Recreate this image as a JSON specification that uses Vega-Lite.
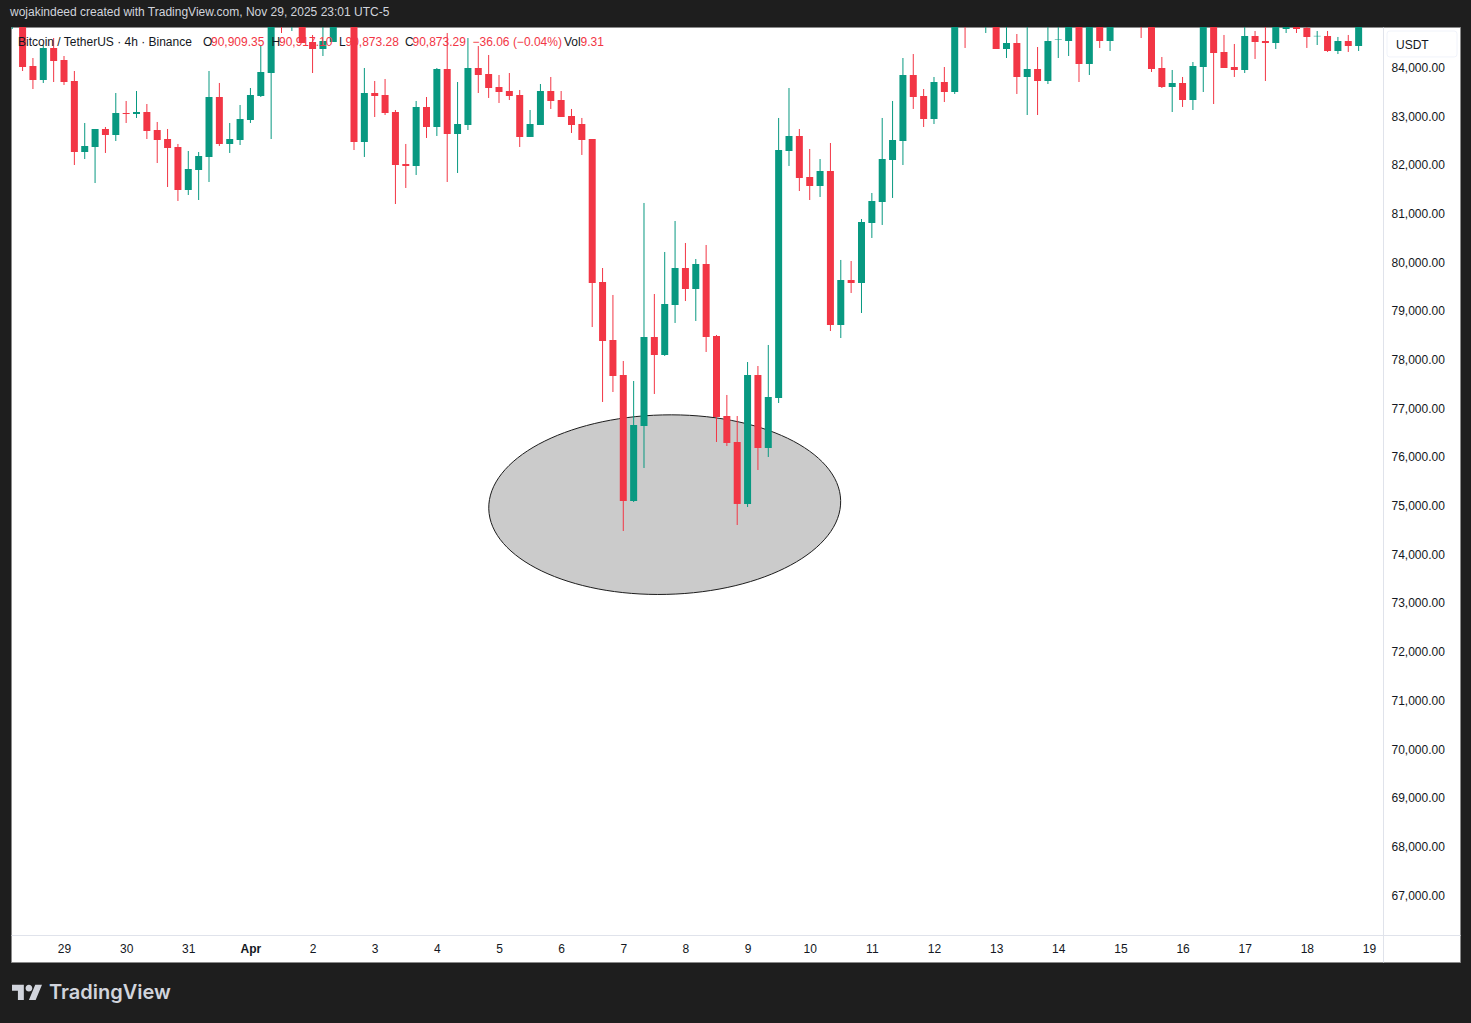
{
  "$schema": "https://vega.github.io/schema/vega-lite/v6.json",
  "width": 1449,
  "height": 935,
  "autosize": "none",
  "padding": {"left": 11, "top": 27, "right": 11, "bottom": 61},
  "background": "#1e1e1e",
  "view": {"fill": "#ffffff", "stroke": "#8a8a8a"},
  "title": {
    "text": "wojakindeed created with TradingView.com, Nov 29, 2025 23:01 UTC-5",
    "anchor": "start",
    "frame": "group",
    "dx": -1,
    "offset": 8,
    "font": "Liberation Sans",
    "fontSize": 12,
    "fontWeight": "normal",
    "color": "#d1d4dc"
  },
  "datasets": {
    "candles": [
      {"t":"2025-03-28T04:00:00Z","dir":"up","o":85079,"h":85284,"l":84791,"c":85181},
      {"t":"2025-03-28T08:00:00Z","dir":"down","o":85181,"h":85284,"l":83928,"c":84010},
      {"t":"2025-03-28T12:00:00Z","dir":"down","o":84031,"h":84195,"l":83558,"c":83743},
      {"t":"2025-03-28T16:00:00Z","dir":"up","o":83743,"h":84462,"l":83682,"c":84401},
      {"t":"2025-03-28T20:00:00Z","dir":"down","o":84401,"h":84606,"l":83702,"c":84134},
      {"t":"2025-03-29T00:00:00Z","dir":"down","o":84154,"h":84236,"l":83641,"c":83702},
      {"t":"2025-03-29T04:00:00Z","dir":"down","o":83723,"h":83928,"l":81997,"c":82264},
      {"t":"2025-03-29T08:00:00Z","dir":"up","o":82264,"h":82860,"l":82120,"c":82388},
      {"t":"2025-03-29T12:00:00Z","dir":"up","o":82367,"h":82737,"l":81627,"c":82737},
      {"t":"2025-03-29T16:00:00Z","dir":"down","o":82737,"h":82778,"l":82244,"c":82614},
      {"t":"2025-03-29T20:00:00Z","dir":"up","o":82614,"h":83476,"l":82490,"c":83065},
      {"t":"2025-03-30T00:00:00Z","dir":"down","o":83065,"h":83312,"l":82860,"c":83045},
      {"t":"2025-03-30T04:00:00Z","dir":"up","o":83045,"h":83517,"l":82963,"c":83086},
      {"t":"2025-03-30T08:00:00Z","dir":"down","o":83086,"h":83250,"l":82531,"c":82696},
      {"t":"2025-03-30T12:00:00Z","dir":"down","o":82716,"h":82881,"l":82038,"c":82511},
      {"t":"2025-03-30T16:00:00Z","dir":"down","o":82531,"h":82737,"l":81545,"c":82346},
      {"t":"2025-03-30T20:00:00Z","dir":"down","o":82367,"h":82429,"l":81258,"c":81484},
      {"t":"2025-03-31T00:00:00Z","dir":"up","o":81484,"h":82285,"l":81381,"c":81915},
      {"t":"2025-03-31T04:00:00Z","dir":"up","o":81894,"h":82264,"l":81278,"c":82182},
      {"t":"2025-03-31T08:00:00Z","dir":"up","o":82162,"h":83928,"l":81648,"c":83394},
      {"t":"2025-03-31T12:00:00Z","dir":"down","o":83394,"h":83682,"l":82388,"c":82429},
      {"t":"2025-03-31T16:00:00Z","dir":"up","o":82429,"h":82860,"l":82244,"c":82531},
      {"t":"2025-03-31T20:00:00Z","dir":"up","o":82511,"h":83230,"l":82408,"c":82942},
      {"t":"2025-04-01T00:00:00Z","dir":"up","o":82922,"h":83579,"l":82860,"c":83435},
      {"t":"2025-04-01T04:00:00Z","dir":"up","o":83415,"h":84462,"l":83394,"c":83908},
      {"t":"2025-04-01T08:00:00Z","dir":"up","o":83887,"h":85181,"l":82531,"c":85079},
      {"t":"2025-04-01T12:00:00Z","dir":"down","o":85181,"h":85284,"l":84709,"c":85079},
      {"t":"2025-04-01T16:00:00Z","dir":"up","o":85079,"h":85284,"l":84750,"c":85181},
      {"t":"2025-04-01T20:00:00Z","dir":"down","o":85181,"h":85284,"l":84503,"c":84503},
      {"t":"2025-04-02T00:00:00Z","dir":"down","o":84524,"h":84668,"l":83887,"c":84380},
      {"t":"2025-04-02T04:00:00Z","dir":"up","o":84380,"h":84900,"l":84236,"c":84544},
      {"t":"2025-04-02T08:00:00Z","dir":"up","o":84524,"h":85181,"l":84524,"c":85079},
      {"t":"2025-04-02T12:00:00Z","dir":"up","o":85000,"h":85181,"l":84900,"c":85079},
      {"t":"2025-04-02T16:00:00Z","dir":"down","o":85181,"h":85284,"l":82305,"c":82470},
      {"t":"2025-04-02T20:00:00Z","dir":"up","o":82470,"h":83990,"l":82162,"c":83476},
      {"t":"2025-04-03T00:00:00Z","dir":"down","o":83476,"h":83723,"l":82983,"c":83415},
      {"t":"2025-04-03T04:00:00Z","dir":"down","o":83435,"h":83764,"l":83024,"c":83065},
      {"t":"2025-04-03T08:00:00Z","dir":"down","o":83086,"h":83127,"l":81196,"c":81997},
      {"t":"2025-04-03T12:00:00Z","dir":"down","o":82018,"h":82429,"l":81525,"c":81977},
      {"t":"2025-04-03T16:00:00Z","dir":"up","o":81977,"h":83312,"l":81792,"c":83189},
      {"t":"2025-04-03T20:00:00Z","dir":"down","o":83189,"h":83394,"l":82552,"c":82778},
      {"t":"2025-04-04T00:00:00Z","dir":"up","o":82778,"h":83990,"l":82593,"c":83969},
      {"t":"2025-04-04T04:00:00Z","dir":"down","o":83969,"h":84709,"l":81648,"c":82634},
      {"t":"2025-04-04T08:00:00Z","dir":"up","o":82634,"h":83702,"l":81833,"c":82839},
      {"t":"2025-04-04T12:00:00Z","dir":"up","o":82819,"h":84606,"l":82716,"c":83990},
      {"t":"2025-04-04T16:00:00Z","dir":"down","o":83990,"h":84442,"l":83476,"c":83846},
      {"t":"2025-04-04T20:00:00Z","dir":"down","o":83867,"h":84257,"l":83374,"c":83579},
      {"t":"2025-04-05T00:00:00Z","dir":"down","o":83599,"h":83846,"l":83271,"c":83497},
      {"t":"2025-04-05T04:00:00Z","dir":"down","o":83517,"h":83887,"l":83332,"c":83415},
      {"t":"2025-04-05T08:00:00Z","dir":"down","o":83435,"h":83538,"l":82367,"c":82573},
      {"t":"2025-04-05T12:00:00Z","dir":"up","o":82573,"h":83127,"l":82573,"c":82839},
      {"t":"2025-04-05T16:00:00Z","dir":"up","o":82819,"h":83661,"l":82819,"c":83517},
      {"t":"2025-04-05T20:00:00Z","dir":"down","o":83517,"h":83805,"l":83148,"c":83312},
      {"t":"2025-04-06T00:00:00Z","dir":"down","o":83332,"h":83517,"l":82983,"c":82983},
      {"t":"2025-04-06T04:00:00Z","dir":"down","o":83004,"h":83148,"l":82655,"c":82819},
      {"t":"2025-04-06T08:00:00Z","dir":"down","o":82839,"h":82963,"l":82203,"c":82511},
      {"t":"2025-04-06T12:00:00Z","dir":"down","o":82531,"h":82531,"l":78669,"c":79573},
      {"t":"2025-04-06T16:00:00Z","dir":"down","o":79594,"h":79881,"l":77129,"c":78382},
      {"t":"2025-04-06T20:00:00Z","dir":"down","o":78402,"h":79327,"l":77334,"c":77663},
      {"t":"2025-04-07T00:00:00Z","dir":"down","o":77683,"h":77971,"l":74479,"c":75095},
      {"t":"2025-04-07T04:00:00Z","dir":"up","o":75095,"h":77560,"l":75074,"c":76656},
      {"t":"2025-04-07T08:00:00Z","dir":"up","o":76636,"h":81217,"l":75773,"c":78464},
      {"t":"2025-04-07T12:00:00Z","dir":"down","o":78464,"h":79347,"l":77293,"c":78094},
      {"t":"2025-04-07T16:00:00Z","dir":"up","o":78094,"h":80210,"l":78074,"c":79142},
      {"t":"2025-04-07T20:00:00Z","dir":"up","o":79121,"h":80847,"l":78752,"c":79881},
      {"t":"2025-04-08T00:00:00Z","dir":"down","o":79881,"h":80395,"l":79203,"c":79450},
      {"t":"2025-04-08T04:00:00Z","dir":"up","o":79450,"h":80066,"l":78793,"c":79964},
      {"t":"2025-04-08T08:00:00Z","dir":"down","o":79964,"h":80354,"l":78156,"c":78464},
      {"t":"2025-04-08T12:00:00Z","dir":"down","o":78484,"h":78505,"l":76307,"c":76821},
      {"t":"2025-04-08T16:00:00Z","dir":"down","o":76841,"h":77273,"l":76225,"c":76287},
      {"t":"2025-04-08T20:00:00Z","dir":"down","o":76307,"h":76841,"l":74602,"c":75034},
      {"t":"2025-04-09T00:00:00Z","dir":"up","o":75034,"h":77950,"l":74972,"c":77683},
      {"t":"2025-04-09T04:00:00Z","dir":"down","o":77683,"h":77868,"l":75732,"c":76184},
      {"t":"2025-04-09T08:00:00Z","dir":"up","o":76184,"h":78300,"l":75999,"c":77232},
      {"t":"2025-04-09T12:00:00Z","dir":"up","o":77211,"h":82963,"l":77108,"c":82305},
      {"t":"2025-04-09T16:00:00Z","dir":"up","o":82285,"h":83579,"l":81977,"c":82593},
      {"t":"2025-04-09T20:00:00Z","dir":"down","o":82593,"h":82737,"l":81463,"c":81730},
      {"t":"2025-04-10T00:00:00Z","dir":"down","o":81751,"h":82326,"l":81278,"c":81566},
      {"t":"2025-04-10T04:00:00Z","dir":"up","o":81566,"h":82120,"l":81340,"c":81874},
      {"t":"2025-04-10T08:00:00Z","dir":"down","o":81874,"h":82449,"l":78587,"c":78710},
      {"t":"2025-04-10T12:00:00Z","dir":"up","o":78710,"h":80046,"l":78443,"c":79635},
      {"t":"2025-04-10T16:00:00Z","dir":"down","o":79635,"h":80025,"l":79368,"c":79573},
      {"t":"2025-04-10T20:00:00Z","dir":"up","o":79573,"h":80888,"l":78957,"c":80826},
      {"t":"2025-04-11T00:00:00Z","dir":"up","o":80806,"h":81422,"l":80498,"c":81258},
      {"t":"2025-04-11T04:00:00Z","dir":"up","o":81237,"h":82963,"l":80765,"c":82120},
      {"t":"2025-04-11T08:00:00Z","dir":"up","o":82100,"h":83312,"l":81320,"c":82511},
      {"t":"2025-04-11T12:00:00Z","dir":"up","o":82490,"h":84195,"l":81997,"c":83846},
      {"t":"2025-04-11T16:00:00Z","dir":"down","o":83846,"h":84277,"l":83148,"c":83394},
      {"t":"2025-04-11T20:00:00Z","dir":"down","o":83415,"h":83558,"l":82778,"c":82942},
      {"t":"2025-04-12T00:00:00Z","dir":"up","o":82942,"h":83805,"l":82839,"c":83702},
      {"t":"2025-04-12T04:00:00Z","dir":"down","o":83702,"h":84010,"l":83291,"c":83497},
      {"t":"2025-04-12T08:00:00Z","dir":"up","o":83497,"h":85181,"l":83456,"c":85079},
      {"t":"2025-04-12T12:00:00Z","dir":"down","o":85181,"h":85284,"l":84401,"c":85079},
      {"t":"2025-04-12T16:00:00Z","dir":"up","o":85079,"h":85284,"l":84900,"c":85181},
      {"t":"2025-04-12T20:00:00Z","dir":"up","o":85079,"h":85284,"l":84709,"c":85181},
      {"t":"2025-04-13T00:00:00Z","dir":"down","o":85181,"h":85284,"l":84380,"c":84380},
      {"t":"2025-04-13T04:00:00Z","dir":"up","o":84380,"h":85000,"l":84195,"c":84503},
      {"t":"2025-04-13T08:00:00Z","dir":"down","o":84503,"h":84688,"l":83456,"c":83805},
      {"t":"2025-04-13T12:00:00Z","dir":"up","o":83805,"h":85000,"l":83024,"c":83969},
      {"t":"2025-04-13T16:00:00Z","dir":"down","o":83969,"h":84421,"l":83024,"c":83723},
      {"t":"2025-04-13T20:00:00Z","dir":"up","o":83723,"h":85000,"l":83661,"c":84544},
      {"t":"2025-04-14T00:00:00Z","dir":"up","o":84565,"h":84900,"l":84195,"c":84575},
      {"t":"2025-04-14T04:00:00Z","dir":"up","o":84544,"h":85181,"l":84236,"c":85079},
      {"t":"2025-04-14T08:00:00Z","dir":"down","o":85079,"h":85181,"l":83702,"c":84072},
      {"t":"2025-04-14T12:00:00Z","dir":"up","o":84072,"h":85181,"l":83846,"c":85079},
      {"t":"2025-04-14T16:00:00Z","dir":"down","o":85079,"h":85181,"l":84401,"c":84544},
      {"t":"2025-04-14T20:00:00Z","dir":"up","o":84544,"h":85181,"l":84339,"c":85079},
      {"t":"2025-04-15T00:00:00Z","dir":"up","o":85000,"h":85181,"l":84900,"c":85079},
      {"t":"2025-04-15T04:00:00Z","dir":"down","o":85079,"h":85181,"l":84900,"c":85000},
      {"t":"2025-04-15T08:00:00Z","dir":"down","o":85079,"h":85181,"l":84606,"c":85000},
      {"t":"2025-04-15T12:00:00Z","dir":"down","o":85079,"h":85181,"l":83908,"c":83969},
      {"t":"2025-04-15T16:00:00Z","dir":"down","o":83990,"h":84216,"l":83579,"c":83599},
      {"t":"2025-04-15T20:00:00Z","dir":"up","o":83599,"h":83949,"l":83086,"c":83682},
      {"t":"2025-04-16T00:00:00Z","dir":"down","o":83682,"h":83805,"l":83189,"c":83332},
      {"t":"2025-04-16T04:00:00Z","dir":"up","o":83332,"h":84113,"l":83127,"c":84031},
      {"t":"2025-04-16T08:00:00Z","dir":"up","o":84010,"h":85181,"l":83497,"c":85079},
      {"t":"2025-04-16T12:00:00Z","dir":"down","o":85079,"h":85181,"l":83250,"c":84298},
      {"t":"2025-04-16T16:00:00Z","dir":"down","o":84319,"h":84668,"l":83990,"c":83990},
      {"t":"2025-04-16T20:00:00Z","dir":"down","o":84010,"h":84483,"l":83805,"c":83949},
      {"t":"2025-04-17T00:00:00Z","dir":"up","o":83949,"h":85000,"l":83887,"c":84647},
      {"t":"2025-04-17T04:00:00Z","dir":"down","o":84647,"h":84750,"l":84175,"c":84524},
      {"t":"2025-04-17T08:00:00Z","dir":"down","o":84544,"h":85000,"l":83723,"c":84503},
      {"t":"2025-04-17T12:00:00Z","dir":"up","o":84503,"h":85181,"l":84380,"c":85079},
      {"t":"2025-04-17T16:00:00Z","dir":"up","o":84791,"h":85000,"l":84709,"c":84850},
      {"t":"2025-04-17T20:00:00Z","dir":"down","o":84850,"h":85000,"l":84709,"c":84791},
      {"t":"2025-04-18T00:00:00Z","dir":"down","o":84811,"h":85000,"l":84401,"c":84627},
      {"t":"2025-04-18T04:00:00Z","dir":"up","o":84640,"h":84750,"l":84462,"c":84650},
      {"t":"2025-04-18T08:00:00Z","dir":"down","o":84647,"h":84750,"l":84319,"c":84339},
      {"t":"2025-04-18T12:00:00Z","dir":"up","o":84339,"h":84627,"l":84277,"c":84544},
      {"t":"2025-04-18T16:00:00Z","dir":"down","o":84544,"h":84668,"l":84319,"c":84442},
      {"t":"2025-04-18T20:00:00Z","dir":"up","o":84442,"h":85181,"l":84339,"c":85079}
    ],
    "notes": [
      {"t":1743142443000,"p":84524,"kind":"name","label":"Bitcoin / TetherUS · 4h · Binance"},
      {"t":1743399661000,"p":84524,"kind":"name","label":"O"},
      {"t":1743410784000,"p":84524,"kind":"value","label":"90,909.35"},
      {"t":1743494901000,"p":84524,"kind":"name","label":"H"},
      {"t":1743505328000,"p":84524,"kind":"value","label":"90,917.10"},
      {"t":1743588750000,"p":84524,"kind":"name","label":"L"},
      {"t":1743597787000,"p":84524,"kind":"value","label":"90,873.28"},
      {"t":1743680514000,"p":84524,"kind":"name","label":"C"},
      {"t":1743690942000,"p":84524,"kind":"value","label":"90,873.29"},
      {"t":1743774364000,"p":84524,"kind":"value","label":"−36.06 (−0.04%)"},
      {"t":1743901582000,"p":84524,"kind":"name","label":"Vol"},
      {"t":1743924523000,"p":84524,"kind":"value","label":"9.31"},
      {"t":1745058365000,"p":84472,"kind":"name","label":"USDT"}
    ]
  },
  "encoding": {
    "x": {
      "field": "t",
      "type": "temporal",
      "title": null,
      "scale": {"type": "utc", "domain": [1743132700800, 1745147340000], "padding": 0},
      "axis": {
        "orient": "bottom",
        "offset": -27,
        "grid": false,
        "ticks": false,
        "domainColor": "#e0e3eb",
        "labelColor": "#131722",
        "labelFont": "Liberation Sans",
        "labelFontSize": 12,
        "labelPadding": 8,
        "labelFlush": false,
        "labelOverlap": false,
        "values": [1743206400000, 1743292800000, 1743379200000, 1743465600000, 1743552000000, 1743638400000, 1743724800000, 1743811200000, 1743897600000, 1743984000000, 1744070400000, 1744156800000, 1744243200000, 1744329600000, 1744416000000, 1744502400000, 1744588800000, 1744675200000, 1744761600000, 1744848000000, 1744934400000, 1745020800000],
        "labelExpr": "utcdate(datum.value) == 1 ? 'Apr' : '' + utcdate(datum.value)",
        "labelFontWeight": {"condition": {"test": "utcdate(datum.value) == 1", "value": "bold"}, "value": "normal"}
      }
    }
  },
  "layer": [
    {
      "data": {"values": [{"t": "2025-04-07T16:00:00Z", "p": 75020}]},
      "mark": {
        "type": "point",
        "filled": true,
        "opacity": 1,
        "fill": "#cbcbcb",
        "stroke": "#1c1c1c",
        "strokeWidth": 1,
        "size": 123904,
        "shape": "M0.9997,-0.0236 C1.0063,0.258 0.5641,0.4968 0.012,0.5098 C-0.5401,0.5228 -0.9931,0.3052 -0.9997,0.0236 C-1.0063,-0.258 -0.5641,-0.4968 -0.012,-0.5098 C0.5401,-0.5228 0.9931,-0.3052 0.9997,-0.0236 Z"
      },
      "encoding": {
        "y": {
          "field": "p",
          "type": "quantitative",
          "title": null,
          "scale": {"domain": [65625, 84832], "nice": false, "zero": false},
          "axis": {
            "orient": "right",
            "offset": -77,
            "grid": false,
            "ticks": false,
            "domainColor": "#e0e3eb",
            "labelColor": "#131722",
            "labelFont": "Liberation Sans",
            "labelFontSize": 12,
            "labelPadding": 8,
            "labelFlush": false,
            "labelOverlap": false,
            "format": ",.2f",
            "values": [67000, 68000, 69000, 70000, 71000, 72000, 73000, 74000, 75000, 76000, 77000, 78000, 79000, 80000, 81000, 82000, 83000, 84000]
          }
        }
      }
    },
    {
      "data": {"name": "candles"},
      "mark": {"type": "rule", "strokeWidth": 1, "clip": true},
      "encoding": {
        "y": {"field": "l", "type": "quantitative"},
        "y2": {"field": "h"},
        "color": {
          "field": "dir",
          "type": "nominal",
          "legend": null,
          "scale": {"domain": ["up", "down"], "range": ["#089981", "#f23645"]}
        }
      }
    },
    {
      "data": {"name": "candles"},
      "mark": {"type": "bar", "size": 7, "clip": true},
      "encoding": {
        "y": {"field": "o", "type": "quantitative"},
        "y2": {"field": "c"},
        "color": {"field": "dir", "type": "nominal", "legend": null}
      }
    },
    {
      "data": {"values": [{"t": 1745094514000, "p": 84483}]},
      "mark": {
        "type": "point",
        "filled": false,
        "opacity": 1,
        "stroke": "#f0f3fa",
        "strokeWidth": 1,
        "size": 4900,
        "shape": "M-0.92,-0.37 Q-1,-0.37 -1,-0.29 V0.29 Q-1,0.37 -0.92,0.37 H0.92 Q1,0.37 1,0.29 V-0.29 Q1,-0.37 0.92,-0.37 Z"
      },
      "encoding": {"y": {"field": "p", "type": "quantitative"}}
    },
    {
      "data": {"name": "notes"},
      "transform": [{"filter": "datum.kind == 'name'"}],
      "mark": {"type": "text", "align": "left", "baseline": "middle", "font": "Liberation Sans", "fontSize": 12, "color": "#131722"},
      "encoding": {
        "y": {"field": "p", "type": "quantitative"},
        "text": {"field": "label"}
      }
    },
    {
      "data": {"name": "notes"},
      "transform": [{"filter": "datum.kind == 'value'"}],
      "mark": {"type": "text", "align": "left", "baseline": "middle", "font": "Liberation Sans", "fontSize": 12, "color": "#f23645"},
      "encoding": {
        "y": {"field": "p", "type": "quantitative"},
        "text": {"field": "label"}
      }
    },
    {
      "data": {"values": [{"t": 1743185545000, "p": 64988, "label": "TradingView"}]},
      "mark": {"type": "text", "align": "left", "baseline": "middle", "font": "Inter", "fontSize": 20, "fontWeight": 600, "color": "#d1d4dc"},
      "encoding": {
        "y": {"field": "p", "type": "quantitative"},
        "text": {"field": "label"}
      }
    },
    {
      "data": {"values": [{"t": 1743154957000, "p": 64999}]},
      "mark": {
        "type": "point",
        "filled": true,
        "opacity": 1,
        "fill": "#d1d4dc",
        "size": 900,
        "shape": "M-0.211,0.507 H-0.606 V-0.113 H-1 V-0.507 H-0.211 Z M0.577,0.507 H0.127 L0.549,-0.507 H1 Z M-0.098,-0.282 C-0.098,-0.406 0.003,-0.507 0.127,-0.507 C0.251,-0.507 0.352,-0.406 0.352,-0.282 C0.352,-0.158 0.251,-0.057 0.127,-0.057 C0.003,-0.057 -0.098,-0.158 -0.098,-0.282 Z"
      },
      "encoding": {"y": {"field": "p", "type": "quantitative"}}
    }
  ]
}
